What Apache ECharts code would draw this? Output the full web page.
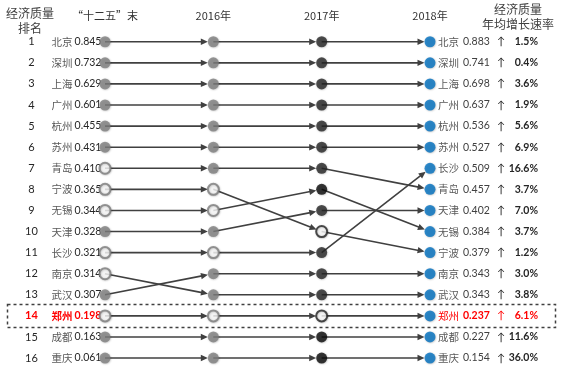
<!DOCTYPE html>
<html><head><meta charset="utf-8">
<script src="https://cdn.jsdelivr.net/npm/echarts@6/dist/echarts.min.js"></script>
<style>html,body{margin:0;padding:0;background:#fff}#c{width:571px;height:379px}</style>
</head><body><div id="c"></div>
<script>
// ---- data ----
const columns = ['“十二五”末', '2016年', '2017年', '2018年'];
const rankLabels = ['1','2','3','4','5','6','7','8','9','10','11','12','13','14','15','16'];
const startCities = ['北京','深圳','上海','广州','杭州','苏州','青岛','宁波','无锡','天津','长沙','南京','武汉','郑州','成都','重庆'];
const startValues = [0.845,0.732,0.629,0.601,0.455,0.431,0.410,0.365,0.344,0.328,0.321,0.314,0.307,0.198,0.163,0.061];
// rank of each city (in startCities order) at each column
const rankStart = [1,2,3,4,5,6,7,8,9,10,11,12,13,14,15,16];
const rank2016  = [1,2,3,4,5,6,7,8,9,10,11,13,12,14,15,16];
const rank2017  = [1,2,3,4,5,6,7,10,8,9,11,13,12,14,15,16];
const rank2018  = [1,2,3,4,5,6,8,11,10,9,7,13,12,14,15,16];
const endCities = ['北京','深圳','上海','广州','杭州','苏州','长沙','青岛','天津','无锡','宁波','南京','武汉','郑州','成都','重庆'];
const endValues = [0.883,0.741,0.698,0.637,0.536,0.527,0.509,0.457,0.402,0.384,0.379,0.343,0.343,0.237,0.227,0.154];
const growthRates = [1.5,0.4,3.6,1.9,5.6,6.9,16.6,3.7,7.0,3.7,1.2,3.0,3.8,6.1,11.6,36.0];
const highlightRank = 14;

// ---- styles ----
const hollowRows = [[7,8,9,11,12,14],[8,9,11,14],[10,14],[]];
const darkRows2017 = [8,15,16];
const lineColor = '#404040';
const NUM = 'Lato, "Noto Sans", sans-serif';
const CJK = '"Noto Sans CJK SC", sans-serif';

const rankCols = [rankStart, rank2016, rank2017, rank2018];
const segments = [];
for (let c = 0; c < 3; c++) {
  for (let i = 0; i < startCities.length; i++) {
    segments.push([c, rankCols[c][i] - 1, c + 1, rankCols[c + 1][i] - 1]);
  }
}
const nodes = [];
for (let c = 0; c < 4; c++) {
  for (let r = 1; r <= 16; r++) {
    const hollow = hollowRows[c].indexOf(r) >= 0;
    let col = c < 2 ? '#7f7f7f' : (c === 2 ? (darkRows2017.indexOf(r) >= 0 ? '#0a0a0a' : '#262626') : '#0070c0');
    nodes.push({
      value: [c, r - 1],
      itemStyle: hollow ? {color: '#fff', borderColor: col, borderWidth: 2} : {color: col, borderWidth: 0}
    });
  }
}

const chart = echarts.init(document.getElementById('c'));
const R = 5.5;
const option = {
  animation: false,
  grid: {left: 105, right: 141, top: 31.2, bottom: 10.4},
  xAxis: {
    type: 'category', position: 'top', boundaryGap: false, data: columns,
    axisLine: {show: false}, axisTick: {show: false}, splitLine: {show: false},
    axisLabel: {margin: 10, color: '#333', fontSize: 11, fontFamily: CJK}
  },
  yAxis: [{
    type: 'category', inverse: true, data: rankLabels, position: 'left',
    axisLine: {show: false}, axisTick: {show: false}, splitLine: {show: false},
    axisLabel: {
      margin: 5, align: 'right',
      formatter: (val, idx) => {
        const s = (idx + 1 === highlightRank) ? 'h' : '';
        return `{r${s}|${val}}{n${s}|${startCities[idx]}}{v${s}|${startValues[idx].toFixed(3)}}`;
      },
      rich: {
        r: {width: 33, align: 'center', fontFamily: NUM, fontSize: 11, color: '#262626'},
        n: {width: 28, align: 'left', fontFamily: CJK, fontSize: 10.5, color: '#595959'},
        v: {width: 24, align: 'left', fontFamily: NUM, fontSize: 10.5, color: '#262626'},
        rh: {width: 33, align: 'center', fontFamily: NUM, fontSize: 11, color: '#ff0000', fontWeight: 'bold'},
        nh: {width: 28, align: 'left', fontFamily: CJK, fontSize: 10.5, color: '#ff0000', fontWeight: 'bold'},
        vh: {width: 24, align: 'left', fontFamily: NUM, fontSize: 10.5, color: '#ff0000', fontWeight: 'bold'}
      }
    }
  }, {
    type: 'category', inverse: true, data: rankLabels, position: 'right',
    axisLine: {show: false}, axisTick: {show: false}, splitLine: {show: false},
    axisLabel: {
      margin: 8, align: 'left',
      formatter: (val, idx) => {
        const s = (idx + 1 === highlightRank) ? 'h' : '';
        return `{n${s}|${endCities[idx]}}{v${s}|${endValues[idx].toFixed(3)}}{a${s}|↑}{p${s}|${growthRates[idx].toFixed(1)}%}`;
      },
      rich: {
        n: {width: 25, align: 'left', fontFamily: CJK, fontSize: 10.5, color: '#595959'},
        v: {width: 32, align: 'left', fontFamily: NUM, fontSize: 10.5, color: '#404040'},
        a: {width: 12, align: 'center', fontFamily: NUM, fontSize: 11, color: '#262626'},
        p: {width: 31, align: 'right', fontFamily: NUM, fontSize: 10.5, color: '#262626', fontWeight: 'bold'},
        nh: {width: 25, align: 'left', fontFamily: CJK, fontSize: 10.5, color: '#ff0000'},
        vh: {width: 32, align: 'left', fontFamily: NUM, fontSize: 10.5, color: '#ff0000', fontWeight: 'bold'},
        ah: {width: 12, align: 'center', fontFamily: NUM, fontSize: 11, color: '#ff0000'},
        ph: {width: 31, align: 'right', fontFamily: NUM, fontSize: 10.5, color: '#ff0000', fontWeight: 'bold'}
      }
    }
  }],
  series: [{
    type: 'custom', z: 2, yAxisIndex: 0,
    encode: {x: [0, 2], y: [1, 3]},
    data: segments,
    renderItem: (params, api) => {
      const a = api.coord([api.value(0), api.value(1)]);
      const b = api.coord([api.value(2), api.value(3)]);
      const dx = b[0] - a[0], dy = b[1] - a[1];
      const L = Math.hypot(dx, dy);
      const ux = dx / L, uy = dy / L;
      const tip = [b[0] - ux * R, b[1] - uy * R];
      const al = 7, aw = 3.2;
      const base = [tip[0] - ux * al, tip[1] - uy * al];
      const p1 = [base[0] - uy * aw, base[1] + ux * aw];
      const p2 = [base[0] + uy * aw, base[1] - ux * aw];
      return {type: 'group', children: [
        {type: 'line', shape: {x1: a[0], y1: a[1], x2: base[0] + ux, y2: base[1] + uy}, style: {stroke: lineColor, lineWidth: 1.6}},
        {type: 'polygon', shape: {points: [tip, p1, p2]}, style: {fill: lineColor}}
      ]};
    }
  }, {
    type: 'scatter', z: 3, yAxisIndex: 0, symbol: 'circle', symbolSize: 11,
    data: nodes,
    itemStyle: {shadowBlur: 2, shadowColor: 'rgba(0,0,0,0.3)', shadowOffsetX: 0.5, shadowOffsetY: 0.5}
  }]
};
chart.setOption(option);

const yTop = chart.convertToPixel({yAxisIndex: 0}, rankLabels[highlightRank - 1]);
chart.setOption({
  graphic: [
    {type: 'text', x: 30, y: 6, style: {text: '经济质量\n排名', align: 'center', verticalAlign: 'top', fontSize: 12, lineHeight: 15, fontFamily: CJK, fill: '#404040'}},
    {type: 'text', x: 518, y: 2, style: {text: '经济质量\n年均增长速率', align: 'center', verticalAlign: 'top', fontSize: 12, lineHeight: 15, fontFamily: CJK, fill: '#404040'}},
    {type: 'rect', shape: {x: 7.5, y: yTop - 11.5, width: 548, height: 23}, style: {fill: 'none', stroke: '#404040', lineWidth: 1.5, lineDash: [3, 3]}, z: 1}
  ]
});
</script>
</body></html>
